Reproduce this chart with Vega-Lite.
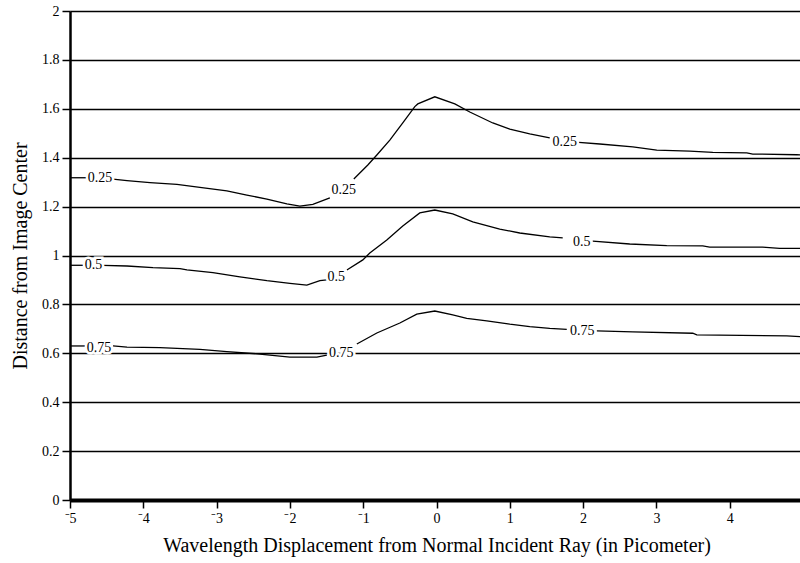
{
  "$schema": "https://vega.github.io/schema/vega-lite/v6.json",
  "width": 733,
  "height": 489,
  "autosize": {"type": "none"},
  "padding": {"left": 70, "top": 11, "right": 0, "bottom": 63},
  "background": "white",
  "datasets": {
    "curves": [
      {"level": "0.25", "seg": "a", "x": -5.0, "y": 1.318},
      {"level": "0.25", "seg": "a", "x": -4.773, "y": 1.318},
      {"level": "0.25", "seg": "b", "x": -4.413, "y": 1.312},
      {"level": "0.25", "seg": "b", "x": -4.223, "y": 1.306},
      {"level": "0.25", "seg": "b", "x": -3.909, "y": 1.298},
      {"level": "0.25", "seg": "b", "x": -3.541, "y": 1.291},
      {"level": "0.25", "seg": "b", "x": -3.228, "y": 1.279},
      {"level": "0.25", "seg": "b", "x": -2.86, "y": 1.264},
      {"level": "0.25", "seg": "b", "x": -2.587, "y": 1.247},
      {"level": "0.25", "seg": "b", "x": -2.314, "y": 1.231},
      {"level": "0.25", "seg": "b", "x": -2.041, "y": 1.211},
      {"level": "0.25", "seg": "b", "x": -1.864, "y": 1.202},
      {"level": "0.25", "seg": "b", "x": -1.687, "y": 1.209},
      {"level": "0.25", "seg": "b", "x": -1.455, "y": 1.236},
      {"level": "0.25", "seg": "c", "x": -1.128, "y": 1.313},
      {"level": "0.25", "seg": "c", "x": -0.937, "y": 1.37},
      {"level": "0.25", "seg": "c", "x": -0.814, "y": 1.411},
      {"level": "0.25", "seg": "c", "x": -0.637, "y": 1.472},
      {"level": "0.25", "seg": "c", "x": -0.46, "y": 1.542},
      {"level": "0.25", "seg": "c", "x": -0.296, "y": 1.609},
      {"level": "0.25", "seg": "c", "x": -0.255, "y": 1.62},
      {"level": "0.25", "seg": "c", "x": -0.023, "y": 1.649},
      {"level": "0.25", "seg": "c", "x": 0.25, "y": 1.62},
      {"level": "0.25", "seg": "c", "x": 0.454, "y": 1.587},
      {"level": "0.25", "seg": "c", "x": 0.768, "y": 1.542},
      {"level": "0.25", "seg": "c", "x": 1.0, "y": 1.517},
      {"level": "0.25", "seg": "c", "x": 1.272, "y": 1.497},
      {"level": "0.25", "seg": "c", "x": 1.545, "y": 1.481},
      {"level": "0.25", "seg": "d", "x": 1.941, "y": 1.463},
      {"level": "0.25", "seg": "d", "x": 2.228, "y": 1.456},
      {"level": "0.25", "seg": "d", "x": 2.678, "y": 1.444},
      {"level": "0.25", "seg": "d", "x": 3.005, "y": 1.431},
      {"level": "0.25", "seg": "d", "x": 3.455, "y": 1.427},
      {"level": "0.25", "seg": "d", "x": 3.769, "y": 1.422},
      {"level": "0.25", "seg": "d", "x": 4.233, "y": 1.42},
      {"level": "0.25", "seg": "d", "x": 4.315, "y": 1.415},
      {"level": "0.25", "seg": "d", "x": 4.915, "y": 1.412},
      {"level": "0.25", "seg": "d", "x": 5.0, "y": 1.411},
      {"level": "0.5", "seg": "a", "x": -5.0, "y": 0.96},
      {"level": "0.5", "seg": "a", "x": -4.823, "y": 0.96},
      {"level": "0.5", "seg": "b", "x": -4.551, "y": 0.96},
      {"level": "0.5", "seg": "b", "x": -4.223, "y": 0.957},
      {"level": "0.5", "seg": "b", "x": -3.868, "y": 0.95},
      {"level": "0.5", "seg": "b", "x": -3.5, "y": 0.946},
      {"level": "0.5", "seg": "b", "x": -3.405, "y": 0.941},
      {"level": "0.5", "seg": "b", "x": -3.05, "y": 0.93},
      {"level": "0.5", "seg": "b", "x": -2.682, "y": 0.913},
      {"level": "0.5", "seg": "b", "x": -2.314, "y": 0.897},
      {"level": "0.5", "seg": "b", "x": -2.0, "y": 0.886},
      {"level": "0.5", "seg": "b", "x": -1.769, "y": 0.879},
      {"level": "0.5", "seg": "b", "x": -1.591, "y": 0.897},
      {"level": "0.5", "seg": "b", "x": -1.496, "y": 0.9},
      {"level": "0.5", "seg": "c", "x": -1.223, "y": 0.941},
      {"level": "0.5", "seg": "c", "x": -1.005, "y": 0.982},
      {"level": "0.5", "seg": "c", "x": -0.91, "y": 1.01},
      {"level": "0.5", "seg": "c", "x": -0.678, "y": 1.063},
      {"level": "0.5", "seg": "c", "x": -0.46, "y": 1.121},
      {"level": "0.5", "seg": "c", "x": -0.228, "y": 1.174},
      {"level": "0.5", "seg": "c", "x": -0.023, "y": 1.186},
      {"level": "0.5", "seg": "c", "x": 0.222, "y": 1.17},
      {"level": "0.5", "seg": "c", "x": 0.495, "y": 1.138},
      {"level": "0.5", "seg": "c", "x": 0.863, "y": 1.108},
      {"level": "0.5", "seg": "c", "x": 1.136, "y": 1.092},
      {"level": "0.5", "seg": "c", "x": 1.545, "y": 1.076},
      {"level": "0.5", "seg": "c", "x": 1.722, "y": 1.072},
      {"level": "0.5", "seg": "d", "x": 2.131, "y": 1.059},
      {"level": "0.5", "seg": "d", "x": 2.636, "y": 1.047},
      {"level": "0.5", "seg": "d", "x": 3.141, "y": 1.04},
      {"level": "0.5", "seg": "d", "x": 3.632, "y": 1.039},
      {"level": "0.5", "seg": "d", "x": 3.727, "y": 1.034},
      {"level": "0.5", "seg": "d", "x": 4.449, "y": 1.034},
      {"level": "0.5", "seg": "d", "x": 4.681, "y": 1.029},
      {"level": "0.5", "seg": "d", "x": 5.0, "y": 1.029},
      {"level": "0.75", "seg": "a", "x": -5.0, "y": 0.63},
      {"level": "0.75", "seg": "a", "x": -4.796, "y": 0.63},
      {"level": "0.75", "seg": "b", "x": -4.414, "y": 0.63},
      {"level": "0.75", "seg": "b", "x": -4.223, "y": 0.625},
      {"level": "0.75", "seg": "b", "x": -3.773, "y": 0.623},
      {"level": "0.75", "seg": "b", "x": -3.228, "y": 0.616},
      {"level": "0.75", "seg": "b", "x": -2.86, "y": 0.607},
      {"level": "0.75", "seg": "b", "x": -2.41, "y": 0.597},
      {"level": "0.75", "seg": "b", "x": -2.0, "y": 0.584},
      {"level": "0.75", "seg": "b", "x": -1.632, "y": 0.584},
      {"level": "0.75", "seg": "b", "x": -1.496, "y": 0.593},
      {"level": "0.75", "seg": "c", "x": -1.087, "y": 0.638},
      {"level": "0.75", "seg": "c", "x": -0.814, "y": 0.683},
      {"level": "0.75", "seg": "c", "x": -0.5, "y": 0.724},
      {"level": "0.75", "seg": "c", "x": -0.269, "y": 0.76},
      {"level": "0.75", "seg": "c", "x": -0.023, "y": 0.773},
      {"level": "0.75", "seg": "c", "x": 0.222, "y": 0.757},
      {"level": "0.75", "seg": "c", "x": 0.413, "y": 0.743},
      {"level": "0.75", "seg": "c", "x": 0.686, "y": 0.733},
      {"level": "0.75", "seg": "c", "x": 1.0, "y": 0.719},
      {"level": "0.75", "seg": "c", "x": 1.272, "y": 0.709},
      {"level": "0.75", "seg": "c", "x": 1.545, "y": 0.702},
      {"level": "0.75", "seg": "c", "x": 1.777, "y": 0.698},
      {"level": "0.75", "seg": "d", "x": 2.186, "y": 0.692},
      {"level": "0.75", "seg": "d", "x": 2.678, "y": 0.688},
      {"level": "0.75", "seg": "d", "x": 3.496, "y": 0.682},
      {"level": "0.75", "seg": "d", "x": 3.551, "y": 0.675},
      {"level": "0.75", "seg": "d", "x": 4.778, "y": 0.671},
      {"level": "0.75", "seg": "d", "x": 5.0, "y": 0.668}
    ],
    "labels": [
      {"text": "0.25", "x": -4.59, "y": 1.319},
      {"text": "0.25", "x": -1.264, "y": 1.266},
      {"text": "0.25", "x": 1.75, "y": 1.463},
      {"text": "0.5", "x": -4.68, "y": 0.96},
      {"text": "0.5", "x": -1.366, "y": 0.912},
      {"text": "0.5", "x": 1.981, "y": 1.057},
      {"text": "0.75", "x": -4.605, "y": 0.622},
      {"text": "0.75", "x": -1.298, "y": 0.602},
      {"text": "0.75", "x": 1.988, "y": 0.691}
    ]
  },
  "layer": [
    {
      "data": {"name": "curves"},
      "mark": {"type": "line", "color": "black", "strokeWidth": 1.3},
      "encoding": {
        "x": {
          "field": "x",
          "type": "quantitative",
          "scale": {"domain": [-5, 5], "nice": false},
          "axis": {
            "title": "Wavelength Displacement from Normal Incident Ray (in Picometer)",
            "values": [-5, -4, -3, -2, -1, 0, 1, 2, 3, 4, 5],
            "labelExpr": "replace(format(datum.value, 'd'), /[-\u2212]/, '\u207b')",
            "grid": false,
            "domainWidth": 4,
            "labelPadding": 3,
            "titlePadding": 10
          }
        },
        "y": {
          "field": "y",
          "type": "quantitative",
          "scale": {"domain": [0, 2], "nice": false},
          "axis": {
            "title": "Distance from Image Center",
            "values": [0, 0.2, 0.4, 0.6, 0.8, 1, 1.2, 1.4, 1.6, 1.8, 2],
            "format": "~g",
            "grid": true,
            "gridColor": "black",
            "gridWidth": 1.5,
            "gridOpacity": 1,
            "domainWidth": 2.5,
            "labelPadding": 3,
            "titlePadding": 11
          }
        },
        "detail": [{"field": "level"}, {"field": "seg"}],
        "order": {"field": "x", "type": "quantitative"}
      }
    },
    {
      "data": {"name": "labels"},
      "mark": {
        "type": "text",
        "font": "Liberation Serif",
        "fontSize": 14,
        "fill": "white",
        "stroke": "white",
        "strokeWidth": 5,
        "align": "center",
        "baseline": "middle"
      },
      "encoding": {
        "x": {"field": "x", "type": "quantitative"},
        "y": {"field": "y", "type": "quantitative"},
        "text": {"field": "text"}
      }
    },
    {
      "data": {"name": "labels"},
      "mark": {
        "type": "text",
        "font": "Liberation Serif",
        "fontSize": 14,
        "color": "black",
        "align": "center",
        "baseline": "middle"
      },
      "encoding": {
        "x": {"field": "x", "type": "quantitative"},
        "y": {"field": "y", "type": "quantitative"},
        "text": {"field": "text"}
      }
    }
  ],
  "config": {
    "view": {"stroke": null},
    "axis": {
      "domainColor": "black",
      "tickColor": "black",
      "tickWidth": 1.5,
      "tickSize": 8,
      "labelFont": "Liberation Serif",
      "labelFontSize": 14,
      "labelColor": "black",
      "titleFont": "Liberation Serif",
      "titleFontSize": 20,
      "titleFontWeight": "normal",
      "titleColor": "black",
      "labelFlush": false,
      "labelOverlap": false
    }
  }
}
